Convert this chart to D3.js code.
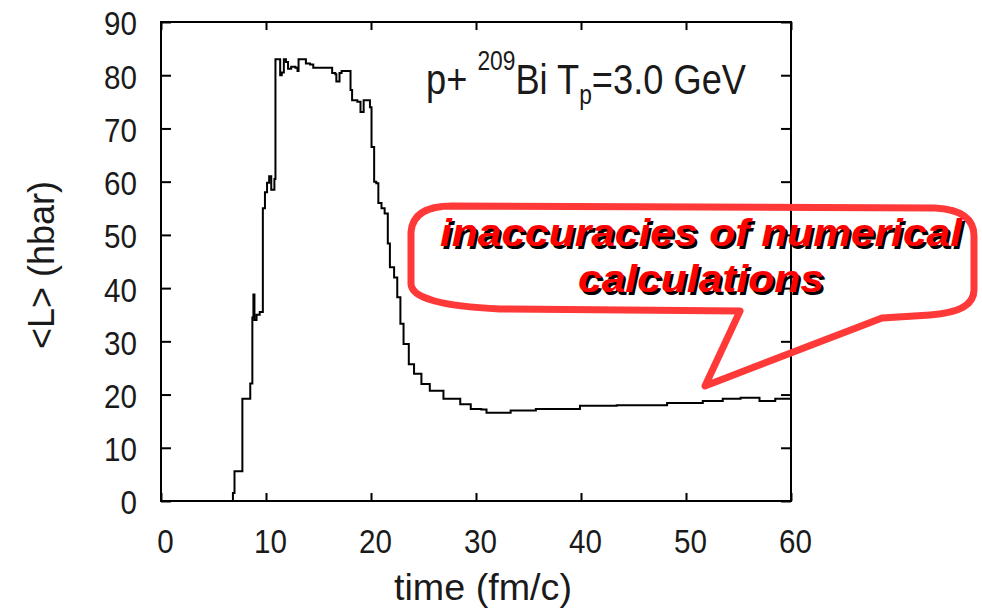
<!DOCTYPE html>
<html>
<head>
<meta charset="utf-8">
<script src="https://cdn.jsdelivr.net/npm/d3@7"></script>
<style>
  body { margin: 0; background: #fff; }
  svg { display: block; font-family: "Liberation Sans", Arial, sans-serif; }
</style>
</head>
<body>
<div id="chart"></div>
<script>
// time (fm/c) and <L> (hbar)
var timeValues = [6.8, 6.85, 7.0, 7.7, 7.75, 8.45, 8.5, 8.65, 8.7, 8.8, 8.9, 9.1, 9.4, 9.7, 9.9, 10.1, 10.3, 10.5, 10.8,
  10.85, 10.9, 11.2, 11.35, 11.5, 11.7, 11.9, 12.1, 12.4, 12.8, 13.0, 13.1, 13.5, 13.8, 14.2, 14.5, 16.1, 16.3, 16.6,
  16.7, 17.0, 17.2, 18.0, 18.05, 18.2, 18.7, 19.0, 19.3, 19.7, 19.9, 20.05, 20.3, 20.5, 20.7, 21.0, 21.3, 21.6, 21.8,
  22.2, 22.5, 22.8, 23.1, 23.6, 24.1, 24.8, 25.6, 26.9, 28.5, 29.5, 30.5, 31.0, 33.0, 33.3, 35.5, 35.7, 38.3, 39.9,
  43.0, 43.4, 47.8, 48.2, 51.3, 51.6, 53.5, 55.2, 56.8, 57.0, 58.3, 58.5, 60.0];
var angMomValues = [0, 1.5, 5.6, 5.6, 19.2, 19.2, 22.1, 22.1, 34.5, 38.8, 34.0, 35.0, 35.5, 55.0, 58.0, 59.8, 61.0, 58.5, 60.5,
  60.5, 83.0, 83.0, 80.0, 80.5, 83.0, 82.5, 81.2, 81.6, 81.4, 80.8, 83.0, 83.0, 82.2, 82.0, 81.4, 81.4, 80.4, 80.2,
  78.8, 80.4, 80.8, 80.8, 77.2, 75.3, 75.0, 73.1, 75.3, 75.3, 74.0, 66.5, 60.0, 59.7, 56.0, 55.0, 54.0, 48.4, 43.9,
  42.0, 38.3, 33.3, 29.5, 25.7, 23.9, 22.0, 20.7, 19.2, 18.2, 17.3, 17.2, 16.6, 16.6, 17.0, 17.0, 17.3, 17.3, 17.9,
  17.9, 18.0, 18.0, 18.4, 18.4, 18.8, 19.2, 19.4, 19.4, 18.8, 18.8, 19.2, 19.2];
var xTicks = [0, 10, 20, 30, 40, 50, 60];
var yTicks = [0, 10, 20, 30, 40, 50, 60, 70, 80, 90];
var calloutLines = ["inaccuracies of numerical", "calculations"];

var width = 982,
    height = 616,
    plotLeft = 161, plotRight = 791, plotTop = 22, plotBottom = 501,
    red = '#ff3838',
    ink = '#1a1a1a';

var svg = d3.select('#chart').append('svg')
    .attr('width', width)
    .attr('height', height);

var x = d3.scaleLinear().domain([0, 60]).range([plotLeft, plotRight]);
var y = d3.scaleLinear().domain([0, 90]).range([plotBottom, plotTop]);

// axes, ticks pointing inward on all four sides
var bottomAxis = svg.append('g')
    .attr('transform', 'translate(0,' + plotBottom + ')')
    .call(d3.axisBottom(x).tickValues(xTicks).tickSizeInner(-8).tickSizeOuter(0).tickPadding(28));
var topAxis = svg.append('g')
    .attr('transform', 'translate(0,' + plotTop + ')')
    .call(d3.axisTop(x).tickValues(xTicks).tickSizeInner(-8).tickSizeOuter(0).tickFormat(''));
var leftAxis = svg.append('g')
    .attr('transform', 'translate(' + plotLeft + ',0)')
    .call(d3.axisLeft(y).tickValues(yTicks).tickSizeInner(-10).tickSizeOuter(0).tickPadding(24));
var rightAxis = svg.append('g')
    .attr('transform', 'translate(' + plotRight + ',0)')
    .call(d3.axisRight(y).tickValues(yTicks).tickSizeInner(-10).tickSizeOuter(0).tickFormat(''));

svg.selectAll('.domain').remove();
svg.selectAll('.tick line').attr('stroke', '#000').attr('stroke-width', 2);
svg.selectAll('.tick text')
    .attr('font-family', '"Liberation Sans", Arial, sans-serif')
    .attr('font-size', 34)
    .attr('fill', ink)
    .each(function() {
      // gnuplot's helvetica looks a little narrower
      var len = this.getComputedTextLength();
      if (len > 0) {
        d3.select(this).attr('textLength', len * 0.87).attr('lengthAdjust', 'spacingAndGlyphs');
      }
    });
bottomAxis.selectAll('.tick text').attr('dx', 4);
leftAxis.selectAll('.tick text').attr('dy', '0.38em');

// frame
svg.append('rect')
    .attr('x', plotLeft)
    .attr('y', plotTop)
    .attr('width', plotRight - plotLeft)
    .attr('height', plotBottom - plotTop)
    .attr('fill', 'none')
    .attr('stroke', '#000')
    .attr('stroke-width', 2);

// the curve
var points = d3.zip(timeValues, angMomValues);
var line = d3.line()
    .x(function(d) { return x(d[0]); })
    .y(function(d) { return y(d[1]); })
    .curve(d3.curveStepAfter);

svg.append('path')
    .datum(points)
    .attr('d', line)
    .attr('fill', 'none')
    .attr('stroke', '#000')
    .attr('stroke-width', 2);

// axis titles
svg.append('text')
    .attr('x', 483)
    .attr('y', 600)
    .attr('text-anchor', 'middle')
    .attr('font-size', 37)
    .attr('fill', ink)
    .attr('textLength', 178)
    .attr('lengthAdjust', 'spacingAndGlyphs')
    .text('time (fm/c)');

svg.append('text')
    .attr('transform', 'translate(54,265) rotate(-90)')
    .attr('text-anchor', 'middle')
    .attr('font-size', 36)
    .attr('fill', ink)
    .attr('textLength', 168)
    .attr('lengthAdjust', 'spacingAndGlyphs')
    .text('<L> (hbar)');

// reaction label
var title = svg.append('text')
    .attr('x', 426)
    .attr('y', 94)
    .attr('font-size', 43)
    .attr('fill', ink)
    .attr('textLength', 320)
    .attr('lengthAdjust', 'spacingAndGlyphs');
title.append('tspan').text('p+ ');
title.append('tspan').attr('font-size', 27).attr('dy', -24).text('209');
title.append('tspan').attr('dy', 24).text('Bi T');
title.append('tspan').attr('font-size', 27).attr('dy', 10).text('p');
title.append('tspan').attr('dy', -10).text('=3.0 GeV');

// speech bubble callout
var bubble = d3.path();
bubble.moveTo(452, 206);
bubble.lineTo(935, 208);
bubble.quadraticCurveTo(974, 210, 974, 236);
bubble.lineTo(974, 290);
bubble.quadraticCurveTo(974, 312, 930, 315);
bubble.lineTo(882, 318);
bubble.lineTo(705, 386);
bubble.lineTo(740, 311);
bubble.lineTo(500, 309);
bubble.quadraticCurveTo(412, 305, 411, 284);
bubble.lineTo(411, 232);
bubble.quadraticCurveTo(413, 206, 452, 206);
bubble.closePath();

svg.append('path')
    .attr('d', bubble.toString())
    .attr('fill', 'none')
    .attr('stroke', red)
    .attr('stroke-width', 7)
    .attr('stroke-linejoin', 'round');

var calloutY = [246, 292],
    calloutLen = [522, 246];

[[2.5, '#000'], [0, '#ff0000']].forEach(function(s) {
  calloutLines.forEach(function(t, i) {
    svg.append('text')
        .attr('x', 701 + s[0])
        .attr('y', calloutY[i] + s[0])
        .attr('text-anchor', 'middle')
        .attr('font-size', 38)
        .attr('font-weight', 'bold')
        .attr('font-style', 'italic')
        .attr('fill', s[1])
        .attr('textLength', calloutLen[i])
        .attr('lengthAdjust', 'spacingAndGlyphs')
        .text(t);
  });
});
</script>
</body>
</html>
